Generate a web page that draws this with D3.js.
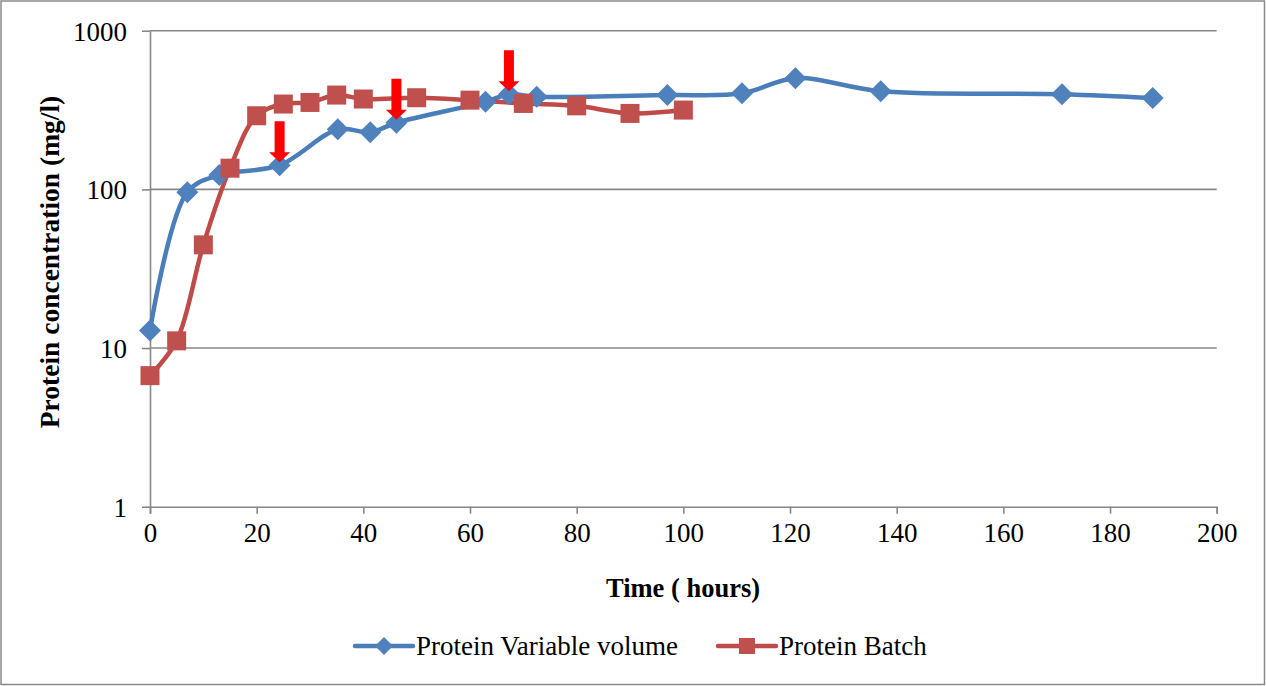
<!DOCTYPE html>
<html>
<head>
<meta charset="utf-8">
<script src="https://cdn.jsdelivr.net/npm/d3@7"></script>
<style>
    body { margin: 0; background: #fff; }
    svg { display: block; }
</style>
</head>
<body>
<div id="chart"></div>
<script>
// time (hours) and protein (mg/l) for the two runs
var timeVariable = [0, 7, 13, 24.3, 35.2, 41.3, 46.2, 62.9, 67.3, 72.5, 97, 111, 121, 137, 171, 188];
var proteinVariable = [12.9, 96, 123, 142, 239, 229, 263, 356, 398, 383, 393, 403, 502, 416, 398, 376];
var timeBatch = [0, 5, 10, 15, 20, 25, 30, 35, 40, 50, 60, 70, 80, 90, 100];
var proteinBatch = [6.7, 11.1, 44.7, 136, 291, 345, 353, 393, 371, 378, 365, 348, 336, 301, 316];
// feed points marked with arrows on the variable volume run
var feedTimes = [24.3, 46.2, 67.3];
var feedValues = [142, 263, 398];
var xTicks = [0, 20, 40, 60, 80, 100, 120, 140, 160, 180, 200];
var yTicks = [1, 10, 100, 1000];
var seriesNames = ["Protein Variable volume", "Protein Batch"];

var w = 1266;
var h = 686;
var plotLeft = 150, plotRight = 1216.7, plotTop = 30.7, plotBottom = 506.7;
var blue = "#4A7EBB", blueMark = "#4F81BD";
var red = "#BE4B48", redMark = "#C0504D";
var grid = "#878787";
var font = "'Liberation Serif', 'Times New Roman', serif";

var svg = d3.select("#chart").append("svg")
    .attr("width", w)
    .attr("height", h);

// outer frame
svg.append("rect")
    .attr("x", 1).attr("y", 1)
    .attr("width", w - 2.5).attr("height", h - 2.5)
    .attr("fill", "#fff")
    .attr("stroke", "#8a8a8a")
    .attr("stroke-width", 1.5);

var x = d3.scaleLinear().domain([0, 200]).range([plotLeft, plotRight]);
var y = d3.scaleLog().domain([1, 1000]).range([plotBottom, plotTop]);

// horizontal gridlines
svg.selectAll("line.grid")
    .data(yTicks.slice(1))
    .enter()
    .append("line")
    .attr("class", "grid")
    .attr("x1", plotLeft).attr("x2", plotRight)
    .attr("y1", function (d) { return y(d); })
    .attr("y2", function (d) { return y(d); })
    .attr("stroke", grid)
    .attr("stroke-width", 1.6);

var xAxis = svg.append("g")
    .attr("transform", "translate(0," + plotBottom + ")")
    .call(d3.axisBottom(x).tickValues(xTicks).tickSizeInner(7).tickSizeOuter(7).tickPadding(9).tickFormat(d3.format("d")));

var yAxis = svg.append("g")
    .attr("transform", "translate(" + plotLeft + ",0)")
    .call(d3.axisLeft(y).tickValues(yTicks).tickSizeInner(8).tickSizeOuter(0).tickPadding(15).tickFormat(d3.format("d")));

[xAxis, yAxis].forEach(function (ax) {
    ax.select(".domain").attr("stroke", grid).attr("stroke-width", 1.6);
    ax.selectAll(".tick line").attr("stroke", grid).attr("stroke-width", 1.6);
    ax.selectAll(".tick text")
        .attr("fill", "#000")
        .style("font-family", font)
        .style("font-size", "27px");
});
yAxis.selectAll(".tick text").attr("dy", "0.35em");

// axis titles
svg.append("text")
    .text("Time ( hours)")
    .attr("x", 683).attr("y", 597)
    .attr("text-anchor", "middle")
    .style("font-family", font)
    .style("font-size", "26.5px")
    .style("font-weight", "bold");

svg.append("text")
    .text("Protein concentration (mg/l)")
    .attr("transform", "translate(59,262) rotate(-90)")
    .attr("text-anchor", "middle")
    .style("font-family", font)
    .style("font-size", "27.5px")
    .style("font-weight", "bold");

var line = d3.line()
    .x(function (d) { return x(d[0]); })
    .y(function (d) { return y(d[1]); })
    .curve(d3.curveCatmullRom.alpha(0.5));

var variablePts = d3.zip(timeVariable, proteinVariable);
var batchPts = d3.zip(timeBatch, proteinBatch);

svg.append("path")
    .attr("d", line(variablePts))
    .attr("fill", "none")
    .attr("stroke", blue)
    .attr("stroke-width", 4.5)
    .attr("stroke-linejoin", "round");

svg.append("path")
    .attr("d", line(batchPts))
    .attr("fill", "none")
    .attr("stroke", red)
    .attr("stroke-width", 4.5)
    .attr("stroke-linejoin", "round");

var diamond = "M0,-11L11,0L0,11L-11,0Z";

svg.selectAll("path.vmark")
    .data(variablePts)
    .enter()
    .append("path")
    .attr("class", "vmark")
    .attr("d", diamond)
    .attr("transform", function (d) { return "translate(" + x(d[0]) + "," + y(d[1]) + ")"; })
    .attr("fill", blueMark);

svg.selectAll("rect.bmark")
    .data(batchPts)
    .enter()
    .append("rect")
    .attr("class", "bmark")
    .attr("x", function (d) { return x(d[0]) - 9.5; })
    .attr("y", function (d) { return y(d[1]) - 9.5; })
    .attr("width", 19).attr("height", 19)
    .attr("fill", redMark);

// feed arrows
var arrow = "M-5,-41L5,-41L5,-10L10.5,-10L0,0L-10.5,-10L-5,-10Z";
svg.selectAll("path.feed")
    .data(d3.zip(feedTimes, feedValues))
    .enter()
    .append("path")
    .attr("class", "feed")
    .attr("d", arrow)
    .attr("transform", function (d) { return "translate(" + x(d[0]) + "," + (y(d[1]) - 3) + ")"; })
    .attr("fill", "#FF0000");

// legend
var legend = svg.append("g");
var legendX = [355, 718];
var legendY = 646;
seriesNames.forEach(function (name, i) {
    var g = legend.append("g").attr("transform", "translate(" + legendX[i] + "," + legendY + ")");
    g.append("line")
        .attr("x1", 0).attr("x2", 58)
        .attr("stroke", i === 0 ? blue : red)
        .attr("stroke-width", 4.5)
        .attr("stroke-linecap", "round");
    if (i === 0) {
        g.append("path").attr("d", "M0,-9L9,0L0,9L-9,0Z")
            .attr("transform", "translate(29,0)")
            .attr("fill", blueMark);
    } else {
        g.append("rect").attr("x", 21).attr("y", -8).attr("width", 16).attr("height", 16)
            .attr("fill", redMark);
    }
    g.append("text")
        .text(name)
        .attr("x", 61).attr("y", 0).attr("dy", "0.35em")
        .style("font-family", font)
        .style("font-size", "27px");
});
</script>
</body>
</html>
